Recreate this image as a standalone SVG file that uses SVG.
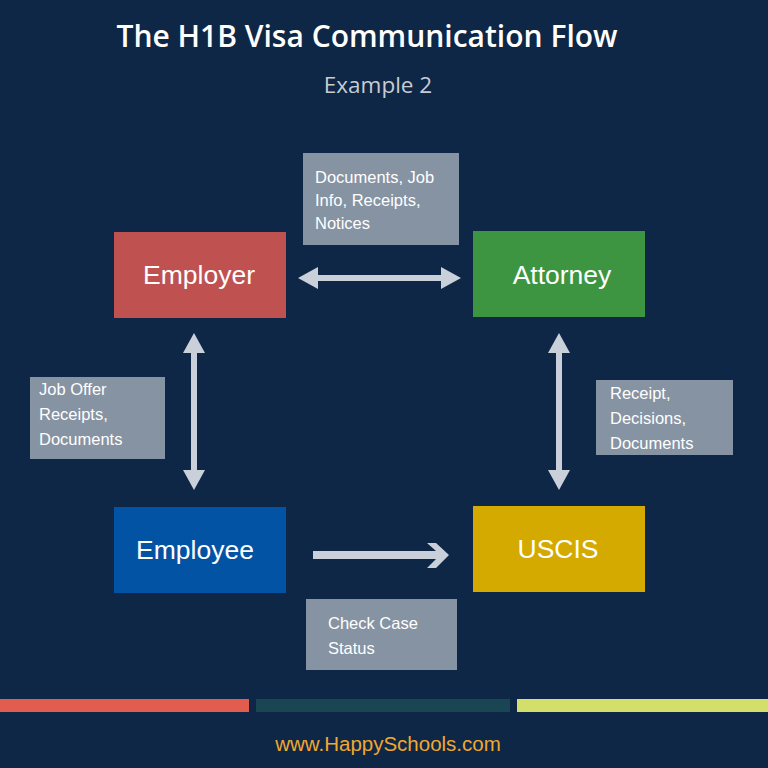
<svg xmlns="http://www.w3.org/2000/svg" width="768" height="768" viewBox="0 0 768 768">
<style>
.node text{font-family:"Liberation Sans",Arial,sans-serif;font-size:26.5px;fill:#ffffff;text-anchor:middle;dominant-baseline:central}
.lbl rect{fill:#8693a3}
.lbl text{font-family:"Liberation Sans",Arial,sans-serif;font-size:16.5px;fill:#ffffff}
.arr{fill:#c9d0da}
</style>
<rect width="768" height="768" fill="#0e2746"/>
<text x="367" y="47" font-family="Open Sans,sans-serif" font-weight="600" font-size="30" fill="#ffffff" text-anchor="middle">The H1B Visa Communication Flow</text>
<text x="378" y="93" font-family="Open Sans,sans-serif" font-size="22.5" fill="#c8ccd2" text-anchor="middle">Example 2</text>

<g id="employer" class="node"><rect x="114" y="232" width="172" height="86" fill="#bf5150"/><text x="199" y="275">Employer</text></g>
<g id="attorney" class="node"><rect x="473" y="231" width="172" height="86" fill="#3e9541"/><text x="562" y="275">Attorney</text></g>
<g id="employee" class="node"><rect x="114" y="507" width="172" height="86" fill="#0353a4"/><text x="195" y="550">Employee</text></g>
<g id="uscis" class="node"><rect x="473" y="506" width="172" height="86" fill="#d4a900"/><text x="558" y="549">USCIS</text></g>

<g id="label-top" class="lbl"><rect x="303" y="153" width="156" height="92"/>
<text x="315" y="183">Documents, Job</text><text x="315" y="206">Info, Receipts,</text><text x="315" y="229">Notices</text></g>
<g id="label-left" class="lbl"><rect x="30" y="377" width="135" height="82"/>
<text x="39" y="395">Job Offer</text><text x="39" y="420">Receipts,</text><text x="39" y="445">Documents</text></g>
<g id="label-right" class="lbl"><rect x="596" y="380" width="137" height="75"/>
<text x="610" y="399">Receipt,</text><text x="610" y="424">Decisions,</text><text x="610" y="449">Documents</text></g>
<g id="label-bottom" class="lbl"><rect x="306" y="599" width="151" height="71"/>
<text x="328" y="629">Check Case</text><text x="328" y="654">Status</text></g>

<g id="connectors" class="arr">
<polygon points="298,278 318,267 318,275 441,275 441,267 461,278 441,289 441,281 318,281 318,289"/>
<polygon points="194,333 205,353 197,353 197,470 205,470 194,490 183,470 191,470 191,353 183,353"/>
<polygon points="559,333 570,353 562,353 562,470 570,470 559,490 548,470 556,470 556,353 548,353"/>
<rect x="313" y="551" width="113" height="8"/>
<polygon points="427,543 436,543 449,555 436,568 427,568 436,559 424,559 424,551 436,551"/>
</g>

<rect x="0" y="699" width="249" height="13" fill="#e35d4f"/>
<rect x="256" y="699" width="254" height="13" fill="#1a4653"/>
<rect x="517" y="699" width="251" height="13" fill="#d4de6a"/>
<text x="388" y="751" font-family="Liberation Sans,Arial,sans-serif" font-size="20.5" fill="#f0a830" text-anchor="middle">www.HappySchools.com</text>
</svg>
